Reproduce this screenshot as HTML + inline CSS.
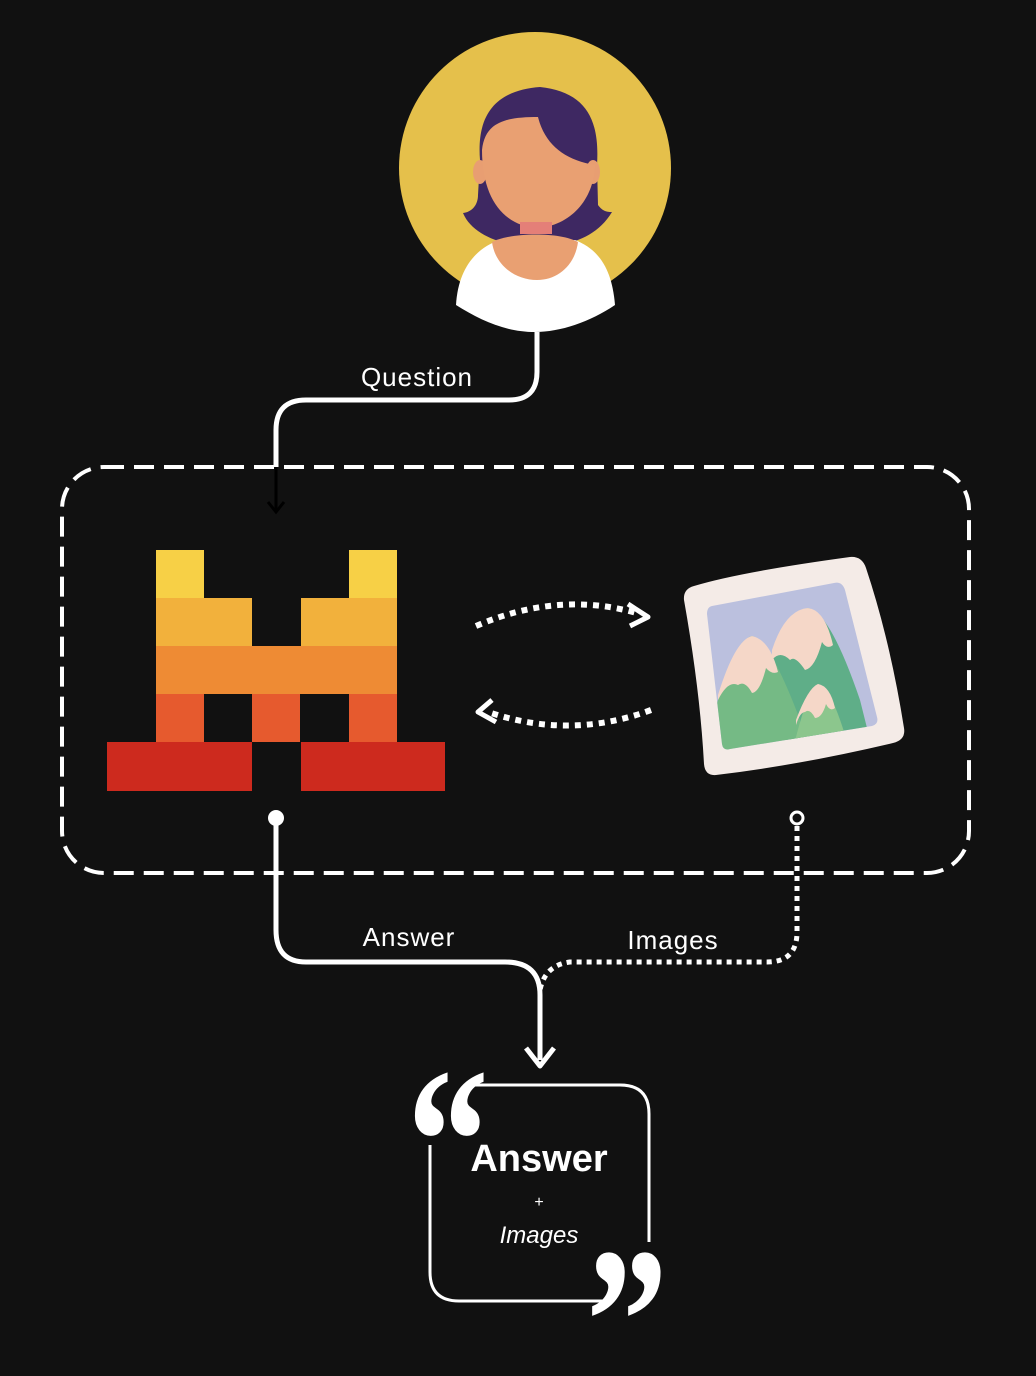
<!DOCTYPE html>
<html><head><meta charset="utf-8"><style>
html,body{margin:0;padding:0;background:#111111;}
svg{display:block;}
text{font-family:"Liberation Sans","DejaVu Sans",sans-serif;fill:#fff;}
</style></head><body>
<svg width="1036" height="1376" viewBox="0 0 1036 1376" xmlns="http://www.w3.org/2000/svg">
<rect width="1036" height="1376" fill="#111111"/>
<defs>
<clipPath id="pc"><path d="M712 606 Q707 607 707 614 L722 744 Q723 751 730 749 L872 726 Q879 724 877 717 L845 590 Q842 581 834 583 Z"/></clipPath>
</defs>
<!-- avatar -->
<circle cx="535" cy="168" r="136" fill="#e5c04b"/>
<path d="M480 160 C476 110 500 90 540 87 C585 92 600 118 597 165 L598 205 C603 212 608 212 612 212 C600 232 580 242 560 244 L510 244 C490 240 470 230 463 213 C472 212 478 205 478 195 Z" fill="#3e2862"/>
<ellipse cx="480" cy="172" rx="7" ry="12" fill="#e89e72"/>
<ellipse cx="593" cy="172" rx="7" ry="12" fill="#e89e72"/>
<path d="M482 150 C485 122 505 117 538 117 C545 145 565 160 595 165 C594 200 570 226 537 228 C505 226 482 200 482 150 Z" fill="#e9a072"/>
<rect x="520" y="222" width="32" height="12" fill="#e47f78"/>
<path d="M456 305 C458 270 475 248 500 240 L575 240 C600 250 612 270 615 305 C590 322 560 332 535 332 C505 332 480 320 456 305 Z" fill="#ffffff"/>
<path d="M492 242 C495 265 515 280 537 280 C558 280 575 265 578 242 C560 232 512 232 492 242 Z" fill="#e9a072"/>
<!-- question connector -->
<path d="M537 332 V372 Q537 400 509 400 H306 Q276 400 276 430 V467" fill="none" stroke="#fff" stroke-width="5"/>
<path d="M276 467 V510" stroke="#000" stroke-width="3"/>
<path d="M268 502 L276 512 L284 502" fill="none" stroke="#000" stroke-width="3"/>
<text x="417" y="386" font-size="26" text-anchor="middle" letter-spacing="1">Question</text>
<!-- dashed box -->
<rect x="62" y="467" width="907" height="406" rx="42" fill="none" stroke="#fff" stroke-width="4" stroke-dasharray="20 10"/>
<!-- mistral logo -->
<g>
<rect x="156" y="550" width="48" height="48" fill="#f7d046"/>
<rect x="349" y="550" width="48" height="48" fill="#f7d046"/>
<rect x="156" y="598" width="96" height="48" fill="#f2b13c"/>
<rect x="301" y="598" width="96" height="48" fill="#f2b13c"/>
<rect x="156" y="646" width="241" height="48" fill="#ee8b34"/>
<rect x="156" y="694" width="48" height="48" fill="#e65a2e"/>
<rect x="252" y="694" width="48" height="48" fill="#e65a2e"/>
<rect x="349" y="694" width="48" height="48" fill="#e65a2e"/>
<rect x="107" y="742" width="145" height="49" fill="#cd2a1e"/>
<rect x="301" y="742" width="144" height="49" fill="#cd2a1e"/>
</g>
<!-- dotted arcs -->
<path d="M476 626 Q560 590 640 614" fill="none" stroke="#fff" stroke-width="6" stroke-dasharray="6 6"/>
<path d="M628 604 L648 617 L630 626" fill="none" stroke="#fff" stroke-width="5" stroke-linejoin="round"/>
<path d="M651 710 Q570 740 488 712" fill="none" stroke="#fff" stroke-width="6" stroke-dasharray="6 6"/>
<path d="M492 700 L478 712 L496 722" fill="none" stroke="#fff" stroke-width="5" stroke-linejoin="round"/>
<!-- picture -->
<path d="M694 586 Q740 572 850 557 Q862 556 866 568 Q890 640 904 728 Q906 740 893 743 Q800 765 716 775 Q705 776 704 764 Q700 690 684 600 Q683 589 694 586 Z" fill="#f4ebe7"/>
<g clip-path="url(#pc)">
<rect x="700" y="575" width="190" height="185" fill="#bbc0de"/>
<path d="M770 660 Q790 612 808 608 Q830 612 860 700 L870 740 L770 740 Z" fill="#5fae88"/>
<path d="M772 650 Q785 610 808 608 Q825 610 833 645 Q827 650 822 642 Q815 668 805 670 Q795 655 790 660 Q780 650 772 660 Z" fill="#f5d7c8"/>
<path d="M715 710 Q735 640 752 636 Q770 640 800 720 L800 750 L715 750 Z" fill="#75ba85"/>
<path d="M718 695 Q735 640 752 636 Q770 640 778 672 Q772 675 766 668 Q760 692 752 693 Q745 680 738 685 Q728 680 718 700 Z" fill="#f5d7c8"/>
<path d="M794 745 Q808 688 818 684 Q830 686 845 735 L845 750 L794 750 Z" fill="#8cc68d"/>
<path d="M796 720 Q808 688 818 684 Q830 686 835 708 Q830 712 826 704 Q822 718 815 718 Q810 708 805 712 Q800 712 796 725 Z" fill="#f5d7c8"/>
</g>
<!-- answer connector -->
<circle cx="276" cy="818" r="8" fill="#fff"/>
<path d="M276 818 V930 Q276 962 306 962 H505 Q540 962 540 995 V1060" fill="none" stroke="#fff" stroke-width="5"/>
<path d="M526 1048 L540 1066 L554 1048" fill="none" stroke="#fff" stroke-width="5" stroke-linejoin="round"/>
<circle cx="797" cy="818" r="6" fill="none" stroke="#fff" stroke-width="3"/>
<path d="M797 826 V932 Q797 962 767 962 H570 Q545 965 540 990" fill="none" stroke="#fff" stroke-width="5" stroke-dasharray="5 5"/>
<text x="409" y="946" font-size="26" text-anchor="middle" letter-spacing="1">Answer</text>
<text x="673" y="949" font-size="26" text-anchor="middle" letter-spacing="1">Images</text>
<!-- answer box -->
<path d="M470 1085 H620 Q649 1085 649 1114 V1242" fill="none" stroke="#fff" stroke-width="3"/>
<path d="M430 1145 V1272 Q430 1301 459 1301 H605" fill="none" stroke="#fff" stroke-width="3"/>
<text transform="translate(407,1212) scale(0.78,1)" x="0" y="0" font-size="210" font-weight="bold" style="font-family:'Liberation Serif',serif">“</text>
<text transform="translate(586,1392) scale(0.78,1)" x="0" y="0" font-size="210" font-weight="bold" style="font-family:'Liberation Serif',serif">”</text>
<text x="539" y="1171" font-size="38" font-weight="bold" text-anchor="middle">Answer</text>
<text x="539" y="1207" font-size="16" text-anchor="middle">+</text>
<text x="539" y="1243" font-size="24" font-style="italic" text-anchor="middle">Images</text>
</svg>
</body></html>
